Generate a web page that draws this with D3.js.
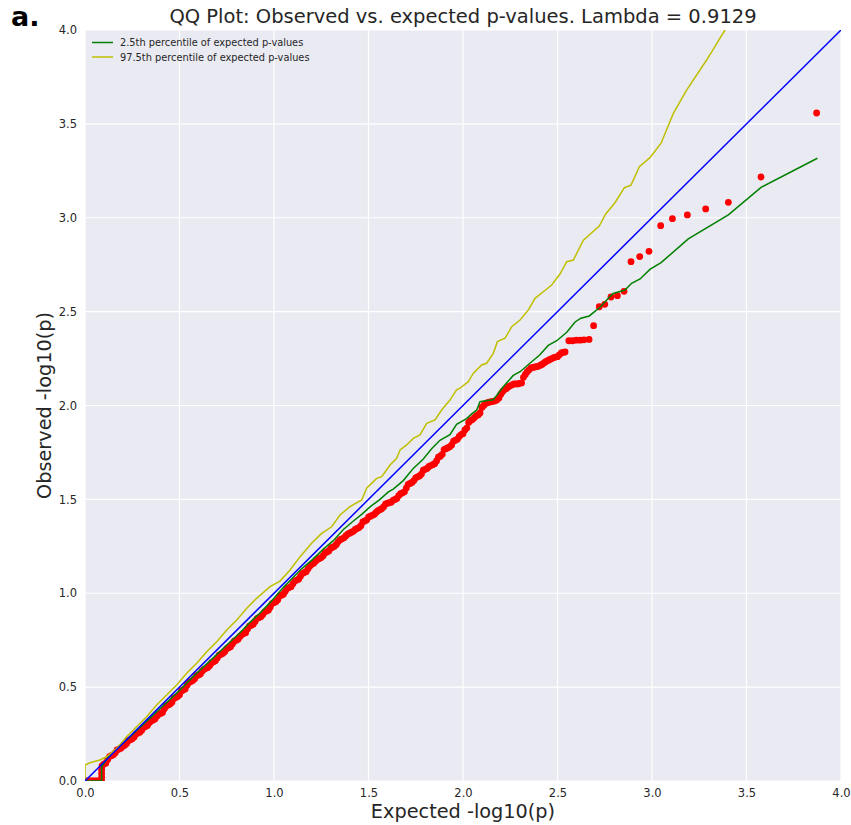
<!DOCTYPE html>
<html>
<head>
<meta charset="utf-8">
<script src="https://cdn.jsdelivr.net/npm/d3@7"></script>
<style>
  body { margin: 0; background: #fff; }
  text { font-family: "DejaVu Sans", sans-serif; }
</style>
</head>
<body>
<div id="grafica"></div>
<script>
// valores
const ticks = [0, 0.5, 1.0, 1.5, 2.0, 2.5, 3.0, 3.5, 4.0];

// p-valores observados (puntos rojos)
const obsE = [0, 0.01, 0.02, 0.03, 0.04, 0.05, 0.06, 0.07, 0.08, 0.088, 0.088, 0.088, 0.088, 0.09,
  0.10, 0.11, 0.12, 0.13, 0.14, 0.15, 0.16, 0.17, 0.18, 0.19,
  0.20, 0.21, 0.22, 0.23, 0.24, 0.25, 0.26, 0.27, 0.28, 0.29,
  0.30, 0.31, 0.32, 0.33, 0.34, 0.35, 0.36, 0.37, 0.38, 0.39,
  0.40, 0.41, 0.42, 0.43, 0.44, 0.45, 0.46, 0.47, 0.48, 0.49,
  0.50, 0.51, 0.52, 0.53, 0.54, 0.55, 0.56, 0.57, 0.58, 0.59,
  0.60, 0.61, 0.62, 0.63, 0.64, 0.65, 0.66, 0.67, 0.68, 0.69,
  0.70, 0.71, 0.72, 0.73, 0.74, 0.75, 0.76, 0.77, 0.78, 0.79,
  0.80, 0.81, 0.82, 0.83, 0.84, 0.85, 0.86, 0.87, 0.88, 0.89,
  0.90, 0.91, 0.92, 0.93, 0.94, 0.95, 0.96, 0.97, 0.98, 0.99,
  1.00, 1.01, 1.02, 1.03, 1.04, 1.05, 1.06, 1.07, 1.08, 1.09,
  1.10, 1.11, 1.12, 1.13, 1.14, 1.15, 1.16, 1.17, 1.18, 1.19,
  1.20, 1.21, 1.22, 1.23, 1.24, 1.25, 1.26, 1.27, 1.28, 1.29,
  1.30, 1.31, 1.32, 1.33, 1.34, 1.35, 1.36, 1.37, 1.38, 1.39,
  1.40, 1.41, 1.42, 1.43, 1.44, 1.45, 1.46, 1.47, 1.48, 1.49,
  1.50, 1.51, 1.52, 1.53, 1.54, 1.55, 1.56, 1.57, 1.58, 1.59,
  1.60, 1.61, 1.62, 1.63, 1.64, 1.65, 1.66, 1.67, 1.68, 1.69,
  1.70, 1.71, 1.72, 1.73, 1.74, 1.75, 1.76, 1.77, 1.78, 1.79,
  1.80, 1.81, 1.82, 1.83, 1.84, 1.85, 1.86, 1.87, 1.88, 1.89,
  1.90, 1.91, 1.92, 1.93, 1.94, 1.95, 1.96, 1.97, 1.98, 1.99,
  2.00, 2.01, 2.02, 2.03, 2.04, 2.05, 2.06, 2.07, 2.08, 2.09,
  2.10, 2.11, 2.12, 2.13, 2.14, 2.15, 2.16, 2.17, 2.18, 2.19,
  2.20, 2.21, 2.22, 2.23, 2.24, 2.25, 2.26, 2.27, 2.28, 2.29,
  2.30, 2.31, 2.32, 2.33, 2.34, 2.35, 2.36, 2.37, 2.38, 2.39,
  2.40, 2.41, 2.42, 2.43, 2.44, 2.45, 2.46, 2.47, 2.48, 2.49,
  2.50, 2.51, 2.52, 2.53, 2.54, 2.56, 2.58, 2.60, 2.62, 2.64,
  2.667, 2.691, 2.721, 2.750, 2.783, 2.817, 2.852, 2.889, 2.935, 2.984,
  3.046, 3.108, 3.187, 3.284, 3.404, 3.577, 3.871];
const obsO = [0, 0, 0, 0, 0, 0, 0, 0, 0, 0, 0.02, 0.04, 0.06, 0.08,
  0.09, 0.095, 0.115, 0.13, 0.135, 0.14, 0.15, 0.165, 0.17, 0.175,
  0.185, 0.19, 0.20, 0.215, 0.22, 0.225, 0.235, 0.25, 0.255, 0.26,
  0.27, 0.285, 0.29, 0.295, 0.31, 0.32, 0.325, 0.33, 0.345, 0.355,
  0.36, 0.365, 0.385, 0.40, 0.405, 0.41, 0.42, 0.44, 0.445, 0.45,
  0.46, 0.48, 0.485, 0.49, 0.51, 0.525, 0.53, 0.535, 0.545, 0.56,
  0.565, 0.57, 0.585, 0.595, 0.60, 0.605, 0.615, 0.63, 0.635, 0.64,
  0.655, 0.67, 0.675, 0.68, 0.69, 0.705, 0.71, 0.715, 0.73, 0.745,
  0.75, 0.755, 0.77, 0.78, 0.785, 0.79, 0.81, 0.825, 0.83, 0.835,
  0.85, 0.865, 0.87, 0.875, 0.885, 0.90, 0.905, 0.91, 0.925, 0.945,
  0.95, 0.955, 0.965, 0.985, 0.99, 0.995, 1.01, 1.025, 1.03, 1.035,
  1.05, 1.065, 1.07, 1.075, 1.09, 1.105, 1.11, 1.115, 1.13, 1.145,
  1.155, 1.16, 1.17, 1.18, 1.185, 1.19, 1.20, 1.215, 1.22, 1.225,
  1.24, 1.245, 1.25, 1.26, 1.275, 1.285, 1.29, 1.295, 1.305, 1.315,
  1.32, 1.325, 1.33, 1.34, 1.345, 1.35, 1.36, 1.38, 1.385, 1.39,
  1.405, 1.41, 1.415, 1.42, 1.43, 1.44, 1.445, 1.45, 1.46, 1.475,
  1.48, 1.482, 1.485, 1.495, 1.50, 1.505, 1.52, 1.53, 1.535, 1.54,
  1.56, 1.58, 1.585, 1.59, 1.60, 1.615, 1.62, 1.625, 1.635, 1.655,
  1.66, 1.665, 1.675, 1.68, 1.685, 1.69, 1.705, 1.725, 1.73, 1.74,
  1.765, 1.77, 1.775, 1.78, 1.79, 1.81, 1.815, 1.82, 1.835, 1.845,
  1.85, 1.87, 1.88, 1.91, 1.92, 1.925, 1.935, 1.945, 1.95, 1.96,
  1.99, 2.00, 2.01, 2.015, 2.018, 2.02, 2.022, 2.025, 2.03, 2.04,
  2.06, 2.075, 2.085, 2.09, 2.10, 2.105, 2.11, 2.115, 2.115, 2.115,
  2.118, 2.12, 2.15, 2.165, 2.18, 2.19, 2.20, 2.203, 2.205, 2.207,
  2.21, 2.215, 2.22, 2.228, 2.235, 2.24, 2.245, 2.25, 2.255, 2.258,
  2.26, 2.27, 2.28, 2.283, 2.285, 2.345, 2.345, 2.348, 2.348, 2.35,
  2.352, 2.425, 2.526, 2.539, 2.578, 2.585, 2.608, 2.766, 2.793, 2.821,
  2.958, 2.995, 3.015, 3.047, 3.082, 3.217, 3.558];

// percentil 2.5 (verde)
const loE = [0, 0.088, 0.088, 0.132, 0.185, 0.238, 0.291, 0.344, 0.397, 0.450, 0.503, 0.556, 0.608,
  0.661, 0.714, 0.767, 0.820, 0.873, 0.926, 0.979, 1.049, 1.102, 1.146, 1.199, 1.261, 1.314, 1.367,
  1.420, 1.464, 1.508, 1.561, 1.605, 1.631, 1.684, 1.737, 1.790, 1.834, 1.878, 1.931, 1.966, 2.019,
  2.046, 2.072, 2.090, 2.120, 2.160, 2.213, 2.266, 2.302, 2.354, 2.407, 2.451, 2.496, 2.549, 2.593,
  2.624, 2.668, 2.725, 2.769, 2.795, 2.857, 2.892, 2.937, 2.989, 3.048, 3.192, 3.404, 3.577, 3.875];
const loO = [0, 0, 0.076, 0.14, 0.185, 0.235, 0.285, 0.335, 0.385, 0.435, 0.485, 0.54, 0.59,
  0.64, 0.69, 0.74, 0.79, 0.845, 0.895, 0.95, 1.03, 1.085, 1.13, 1.175, 1.235, 1.28, 1.34,
  1.385, 1.42, 1.46, 1.50, 1.54, 1.555, 1.60, 1.665, 1.715, 1.77, 1.815, 1.845, 1.90, 1.93,
  1.955, 1.975, 2.02, 2.025, 2.03, 2.10, 2.16, 2.18, 2.225, 2.27, 2.32, 2.345, 2.39, 2.445,
  2.465, 2.477, 2.523, 2.571, 2.597, 2.615, 2.651, 2.674, 2.725, 2.761, 2.887, 3.015, 3.162, 3.317];

// percentil 97.5 (amarillo)
const hiE = [0, 0, 0.026, 0.079, 0.115, 0.168, 0.220, 0.273, 0.326, 0.379, 0.432, 0.485, 0.538,
  0.591, 0.644, 0.697, 0.750, 0.803, 0.856, 0.908, 0.979, 1.032, 1.085, 1.138, 1.199, 1.252, 1.305,
  1.349, 1.402, 1.464, 1.490, 1.543, 1.570, 1.614, 1.649, 1.667, 1.702, 1.737, 1.772, 1.808, 1.852,
  1.887, 1.931, 1.966, 1.984, 2.028, 2.055, 2.099, 2.125, 2.160, 2.182, 2.222, 2.258, 2.302, 2.346,
  2.381, 2.425, 2.469, 2.513, 2.549, 2.584, 2.637, 2.721, 2.755, 2.804, 2.854, 2.889, 2.933, 2.989,
  3.048, 3.113, 3.183, 3.289, 3.386, 3.45];
const hiO = [0, 0.085, 0.097, 0.112, 0.129, 0.174, 0.236, 0.289, 0.342, 0.405, 0.458, 0.511, 0.574,
  0.627, 0.689, 0.742, 0.804, 0.858, 0.920, 0.973, 1.035, 1.065, 1.124, 1.195, 1.266, 1.319, 1.354,
  1.417, 1.461, 1.497, 1.559, 1.612, 1.621, 1.683, 1.719, 1.763, 1.790, 1.825, 1.843, 1.905, 1.923,
  1.976, 2.029, 2.083, 2.092, 2.127, 2.172, 2.216, 2.225, 2.278, 2.340, 2.358, 2.420, 2.455, 2.509,
  2.571, 2.606, 2.642, 2.70, 2.766, 2.775, 2.881, 2.956, 3.020, 3.080, 3.160, 3.174, 3.272, 3.320,
  3.397, 3.556, 3.680, 3.840, 4.0, 4.1];

const diagonal = [0, 4.0];

const width = 851, height = 825;
const m = {left: 85, right: 10, top: 30, bottom: 44};

let svg = d3.select("#grafica").append("svg")
    .attr("width", width)
    .attr("height", height);

const x = d3.scaleLinear().domain([0, 4.0]).range([m.left, width - m.right]);
const y = d3.scaleLinear().domain([0, 4.0]).range([height - m.bottom, m.top]);

svg.append("defs").append("clipPath").attr("id", "recorte")
  .append("rect")
    .attr("x", x(0)).attr("y", y(4))
    .attr("width", x(4) - x(0)).attr("height", y(0) - y(4));

svg.append("rect")
    .attr("x", x(0)).attr("y", y(4))
    .attr("width", x(4) - x(0)).attr("height", y(0) - y(4))
    .attr("fill", "#EAEAF2");

// rejilla blanca
svg.append("g").selectAll("line").data(ticks).join("line")
    .attr("x1", d => x(d)).attr("x2", d => x(d))
    .attr("y1", y(0)).attr("y2", y(4))
    .attr("stroke", "#fff").attr("stroke-width", 1.2);
svg.append("g").selectAll("line").data(ticks).join("line")
    .attr("y1", d => y(d)).attr("y2", d => y(d))
    .attr("x1", x(0)).attr("x2", x(4))
    .attr("stroke", "#fff").attr("stroke-width", 1.2);

// ejes
let ejeX = svg.append("g")
    .attr("transform", `translate(0,${y(0)})`)
    .call(d3.axisBottom(x).tickValues(ticks).tickFormat(d3.format(".1f")).tickSize(0).tickPadding(8));
let ejeY = svg.append("g")
    .attr("transform", `translate(${x(0)},0)`)
    .call(d3.axisLeft(y).tickValues(ticks).tickFormat(d3.format(".1f")).tickSize(0).tickPadding(8));
[ejeX, ejeY].forEach(g => {
  g.select(".domain").remove();
  g.selectAll("text").attr("font-size", 11.5).attr("fill", "#262626")
    .attr("font-family", "DejaVu Sans, sans-serif");
});

let plot = svg.append("g").attr("clip-path", "url(#recorte)");

plot.selectAll(".punto")
  .data(obsE.map((e, i) => [e, obsO[i]]))
  .join("circle")
    .attr("class", "punto")
    .attr("cx", d => x(d[0]))
    .attr("cy", d => y(d[1]))
    .attr("r", 3.4)
    .attr("fill", "#FF0000");

const linea = d3.line().x(d => x(d[0])).y(d => y(d[1]));

plot.append("path")
    .attr("d", linea(loE.map((e, i) => [e, loO[i]])))
    .attr("fill", "none").attr("stroke", "#008000").attr("stroke-width", 1.5);
plot.append("path")
    .attr("d", linea(hiE.map((e, i) => [e, hiO[i]])))
    .attr("fill", "none").attr("stroke", "#BFBF00").attr("stroke-width", 1.5);
plot.append("path")
    .attr("d", linea(diagonal.map(d => [d, d])))
    .attr("fill", "none").attr("stroke", "#0000FF").attr("stroke-width", 1.5);

// leyenda
const leyenda = [
  {t: "2.5th percentile of expected p-values", c: "#008000"},
  {t: "97.5th percentile of expected p-values", c: "#BFBF00"}
];
let ley = svg.append("g").selectAll("g").data(leyenda).join("g")
    .attr("transform", (d, i) => `translate(92,${42.5 + i * 14.5})`);
ley.append("line").attr("x1", 0).attr("x2", 21)
    .attr("stroke", d => d.c).attr("stroke-width", 1.5);
ley.append("text").attr("x", 28).attr("y", 3.5)
    .attr("font-size", 9.8).attr("fill", "#262626").text(d => d.t);

// titulos
svg.append("text")
    .attr("x", (x(0) + x(4)) / 2).attr("y", 23)
    .attr("text-anchor", "middle").attr("font-size", 19.5).attr("fill", "#262626")
    .text("QQ Plot: Observed vs. expected p-values. Lambda = 0.9129");
svg.append("text")
    .attr("x", (x(0) + x(4)) / 2).attr("y", 818)
    .attr("text-anchor", "middle").attr("font-size", 19.3).attr("fill", "#262626")
    .text("Expected -log10(p)");
svg.append("text")
    .attr("transform", `translate(51,${(y(0) + y(4)) / 2}) rotate(-90)`)
    .attr("text-anchor", "middle").attr("font-size", 19.3).attr("fill", "#262626")
    .text("Observed -log10(p)");
svg.append("text")
    .attr("x", 11).attr("y", 26)
    .attr("font-family", "Liberation Sans, Arial, sans-serif")
    .attr("font-weight", "bold").attr("font-size", 27).attr("fill", "#000")
    .text("a.");
</script>
</body>
</html>
